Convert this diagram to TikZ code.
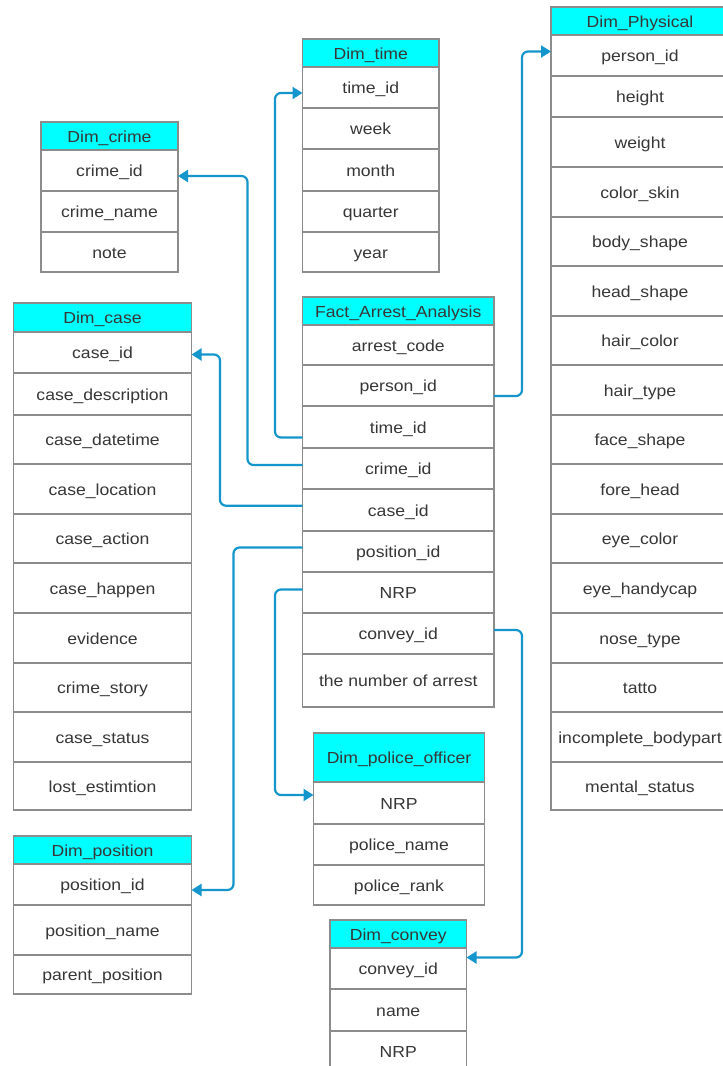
\documentclass[tikz,border=0pt]{standalone}
\usepackage{fontspec}
\setmainfont{Liberation Sans}[FakeStretch=1.1]
\usetikzlibrary{arrows.meta}
\definecolor{bcol}{RGB}{140,140,140}
\definecolor{tcol}{RGB}{55,55,55}
\definecolor{ccol}{RGB}{20,150,205}
\definecolor{hcol}{RGB}{0,255,255}
\tikzset{
  cell/.style={draw=bcol, line width=1.2pt, anchor=north west, inner sep=0pt, outer sep=0pt,
    text=tcol, font=\fontsize{16}{19}\selectfont, text height=13pt, text depth=0.5pt},
  headcell/.style={cell, fill=hcol},
  conn/.style={draw=ccol, line width=2.2pt, rounded corners=6pt, -{Triangle[length=10pt,width=12pt]}},
}
\newcommand\trow[6]{\node[cell, minimum width=#4pt, minimum height=#5pt] (#1) at (#2,#3) {#6};}
\newcommand\thead[6]{\node[headcell, minimum width=#4pt, minimum height=#5pt] (#1) at (#2,#3) {#6};}
\begin{document}
\begin{tikzpicture}[x=1pt,y=-1pt]
\useasboundingbox (0,0) rectangle (723,1066);
\clip (0,0) rectangle (723,1066);
\fill[white] (0,0) rectangle (723,1066);

% Dim_crime
\thead{cr-h}{41}{122}{137}{28}{Dim\_crime}
\trow{cr-id}{41}{150}{137}{41}{crime\_id}
\trow{cr-name}{41}{191}{137}{41}{crime\_name}
\trow{cr-note}{41}{232}{137}{40}{note}

% Dim_time
\thead{tm-h}{302.5}{39}{136.5}{28}{Dim\_time}
\trow{tm-id}{302.5}{67}{136.5}{41}{time\_id}
\trow{tm-week}{302.5}{108}{136.5}{41}{week}
\trow{tm-month}{302.5}{149}{136.5}{42}{month}
\trow{tm-quarter}{302.5}{191}{136.5}{41}{quarter}
\trow{tm-year}{302.5}{232}{136.5}{40}{year}

% Dim_Physical
\thead{ph-h}{551}{7}{178}{28}{Dim\_Physical}
\trow{ph-person}{551}{35}{178}{41}{person\_id}
\trow{ph-height}{551}{76}{178}{41}{height}
\trow{ph-weight}{551}{117}{178}{50}{weight}
\trow{ph-skin}{551}{167}{178}{50}{color\_skin}
\trow{ph-body}{551}{217}{178}{49}{body\_shape}
\trow{ph-head}{551}{266}{178}{50}{head\_shape}
\trow{ph-haircol}{551}{316}{178}{49}{hair\_color}
\trow{ph-hairtype}{551}{365}{178}{50}{hair\_type}
\trow{ph-face}{551}{415}{178}{49}{face\_shape}
\trow{ph-fore}{551}{464}{178}{50}{fore\_head}
\trow{ph-eyecol}{551}{514}{178}{49}{eye\_color}
\trow{ph-eyehc}{551}{563}{178}{50}{eye\_handycap}
\trow{ph-nose}{551}{613}{178}{50}{nose\_type}
\trow{ph-tatto}{551}{663}{178}{49}{tatto}
\trow{ph-incomp}{551}{712}{178}{50}{incomplete\_bodypart}
\trow{ph-mental}{551}{762}{178}{48}{mental\_status}

% Fact_Arrest_Analysis
\thead{fa-h}{302.5}{297}{191.5}{28}{Fact\_Arrest\_Analysis}
\trow{fa-arrest}{302.5}{325}{191.5}{40}{arrest\_code}
\trow{fa-person}{302.5}{365}{191.5}{41}{person\_id}
\trow{fa-time}{302.5}{406}{191.5}{42}{time\_id}
\trow{fa-crime}{302.5}{448}{191.5}{41}{crime\_id}
\trow{fa-case}{302.5}{489}{191.5}{42}{case\_id}
\trow{fa-pos}{302.5}{531}{191.5}{41}{position\_id}
\trow{fa-nrp}{302.5}{572}{191.5}{41}{NRP}
\trow{fa-conv}{302.5}{613}{191.5}{41}{convey\_id}
\trow{fa-num}{302.5}{654}{191.5}{53}{the number of arrest}

% Dim_case
\thead{ca-h}{13.5}{303}{178}{29}{Dim\_case}
\trow{ca-id}{13.5}{332}{178}{41}{case\_id}
\trow{ca-desc}{13.5}{373}{178}{42}{case\_description}
\trow{ca-dt}{13.5}{415}{178}{49}{case\_datetime}
\trow{ca-loc}{13.5}{464}{178}{50}{case\_location}
\trow{ca-act}{13.5}{514}{178}{49}{case\_action}
\trow{ca-hap}{13.5}{563}{178}{50}{case\_happen}
\trow{ca-ev}{13.5}{613}{178}{50}{evidence}
\trow{ca-story}{13.5}{663}{178}{49}{crime\_story}
\trow{ca-status}{13.5}{712}{178}{50}{case\_status}
\trow{ca-lost}{13.5}{762}{178}{48}{lost\_estimtion}

% Dim_position
\thead{po-h}{13.5}{836}{178}{28}{Dim\_position}
\trow{po-id}{13.5}{864}{178}{41}{position\_id}
\trow{po-name}{13.5}{905}{178}{50}{position\_name}
\trow{po-parent}{13.5}{955}{178}{39}{parent\_position}

% Dim_police_officer
\thead{pl-h}{313.5}{733}{171}{49}{Dim\_police\_officer}
\trow{pl-nrp}{313.5}{782}{171}{42}{NRP}
\trow{pl-name}{313.5}{824}{171}{41}{police\_name}
\trow{pl-rank}{313.5}{865}{171}{40}{police\_rank}

% Dim_convey
\thead{cv-h}{330}{920}{136.5}{28}{Dim\_convey}
\trow{cv-id}{330}{948}{136.5}{41}{convey\_id}
\trow{cv-name}{330}{989}{136.5}{42}{name}
\trow{cv-nrp}{330}{1031}{136.5}{41}{NRP}

% connectors
\draw[conn] ([yshift=-10.5pt]fa-person.east) -- ++(28,0) |- ([yshift=4pt]ph-person.west);
\draw[conn] ([yshift=-10.5pt]fa-time.west) -- ++(-27.5,0) |- ([yshift=-5.5pt]tm-id.west);
\draw[conn] ([yshift=3.5pt]fa-crime.west) -- ++(-55,0) |- ([yshift=-5.5pt]cr-id.east);
\draw[conn] ([yshift=4.3pt]fa-case.west) -- ++(-82.5,0) |- ([yshift=-2pt]ca-id.east);
\draw[conn] ([yshift=4pt]fa-pos.west) -- ++(-69,0) |- ([yshift=-5.5pt]po-id.east);
\draw[conn] ([yshift=3pt]fa-nrp.west) -- ++(-27.5,0) |- ([yshift=8pt]pl-nrp.west);
\draw[conn] ([yshift=3.5pt]fa-conv.east) -- ++(28,0) |- ([yshift=11pt]cv-id.east);
\end{tikzpicture}
\end{document}
